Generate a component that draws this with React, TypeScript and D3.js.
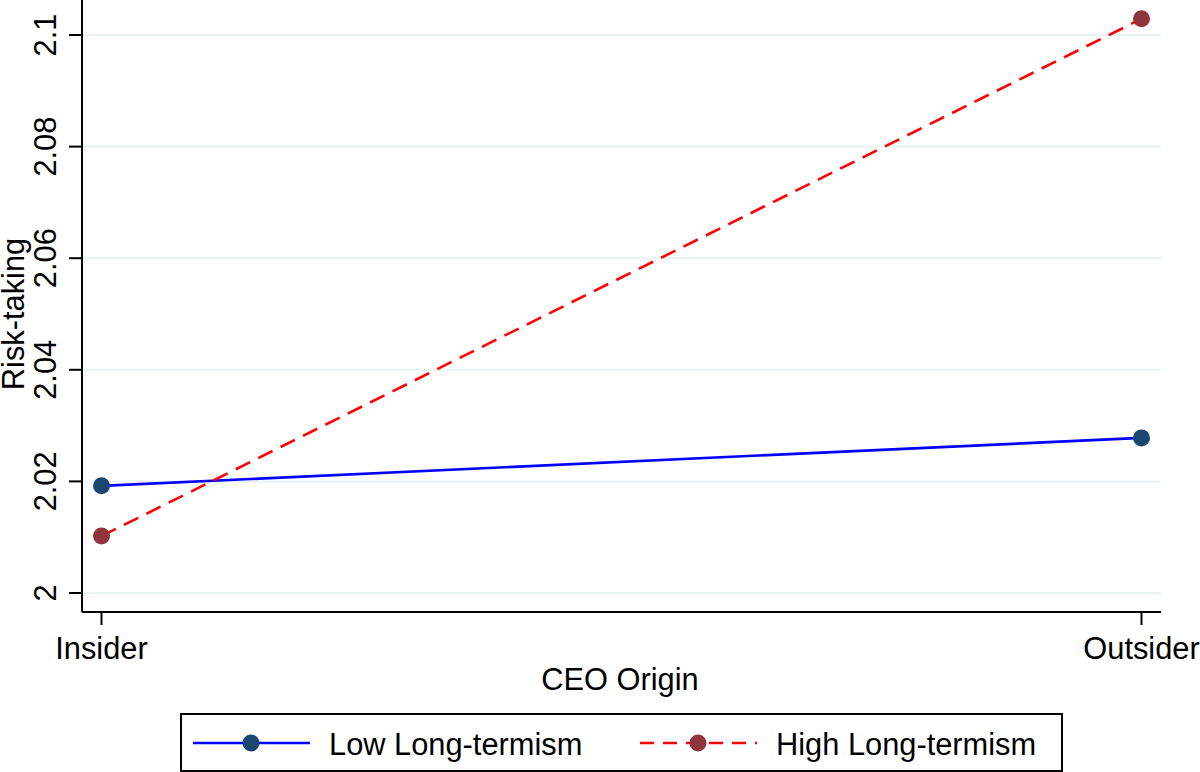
import React from "react";
import * as d3 from "d3";

const categories = ["Insider", "Outsider"];
const lowValues = [2.0192, 2.0278];
const highValues = [2.0102, 2.1029];
const yTicks = [2, 2.02, 2.04, 2.06, 2.08, 2.1];
const seriesNames = ["Low Long-termism", "High Long-termism"];

const W = 1200;
const H = 772;
const FONT = "'Liberation Sans', Arial, Helvetica, sans-serif";
const FS = 30.8;

export default function App() {
  const left = 82;
  const right = 1161;
  const bottom = 612;
  const x = d3.scalePoint<string>().domain(categories).range([101.5, 1141.5]);
  const y = d3.scaleLinear().domain([2, 2.1]).range([593, 35]);

  const line = d3
    .line<number>()
    .x((_, i) => x(categories[i]) as number)
    .y((d) => y(d));

  const series = [
    { name: seriesNames[0], values: lowValues, stroke: "#0000ff", marker: "#1a476f", dash: undefined as string | undefined },
    { name: seriesNames[1], values: highValues, stroke: "#ff0000", marker: "#90353b", dash: "16,9" },
  ];

  const legendItems = [
    { x1: 193, x2: 310, mx: 251, tx: 329 },
    { x1: 640, x2: 757, mx: 698, tx: 776 },
  ];

  return (
    <svg width={W} height={H} style={{ position: "absolute", left: 0, top: 0, background: "#fff" }} fontFamily={FONT}>
      <rect x={0} y={0} width={W} height={H} fill="#ffffff" />
      {yTicks.map((t) => (
        <line key={"g" + t} x1={left} x2={right} y1={y(t)} y2={y(t)} stroke="#eaf2f3" strokeWidth={2} />
      ))}
      <line x1={left} x2={left} y1={0} y2={bottom} stroke="#000" strokeWidth={2} />
      <line x1={left} x2={right} y1={bottom} y2={bottom} stroke="#000" strokeWidth={2} />
      {yTicks.map((t) => (
        <g key={"t" + t}>
          <line x1={69} x2={left} y1={y(t)} y2={y(t)} stroke="#000" strokeWidth={2} />
          <text
            transform={`translate(56,${y(t)}) rotate(-90)`}
            textAnchor="middle"
            fontSize={FS}
            fill="#000"
          >
            {String(t)}
          </text>
        </g>
      ))}
      {categories.map((c) => (
        <g key={c}>
          <line x1={x(c)} x2={x(c)} y1={bottom} y2={625} stroke="#000" strokeWidth={2} />
          <text x={x(c)} y={659} textAnchor="middle" fontSize={FS} fill="#000">
            {c}
          </text>
        </g>
      ))}
      <text x={620} y={690} textAnchor="middle" fontSize={FS} fill="#000">
        CEO Origin
      </text>
      <text transform={`translate(24,314) rotate(-90)`} textAnchor="middle" fontSize={FS} fill="#000">
        Risk-taking
      </text>
      {series.map((s) => (
        <g key={s.name}>
          <path d={line(s.values) || ""} fill="none" stroke={s.stroke} strokeWidth={2.6} strokeDasharray={s.dash} />
          {s.values.map((v, i) => (
            <circle key={i} cx={x(categories[i])} cy={y(v)} r={8.5} fill={s.marker} />
          ))}
        </g>
      ))}
      <rect x={181} y={714} width={881} height={57} fill="#fff" stroke="#000" strokeWidth={2} />
      {series.map((s, i) => {
        const L = legendItems[i];
        return (
          <g key={"l" + s.name}>
            <line x1={L.x1} x2={L.x2} y1={743} y2={743} stroke={s.stroke} strokeWidth={2.6} strokeDasharray={s.dash ? "14,9" : undefined} />
            <circle cx={L.mx} cy={743} r={8.5} fill={s.marker} />
            <text x={L.tx} y={755} fontSize={FS} fill="#000">
              {s.name}
            </text>
          </g>
        );
      })}
    </svg>
  );
}
